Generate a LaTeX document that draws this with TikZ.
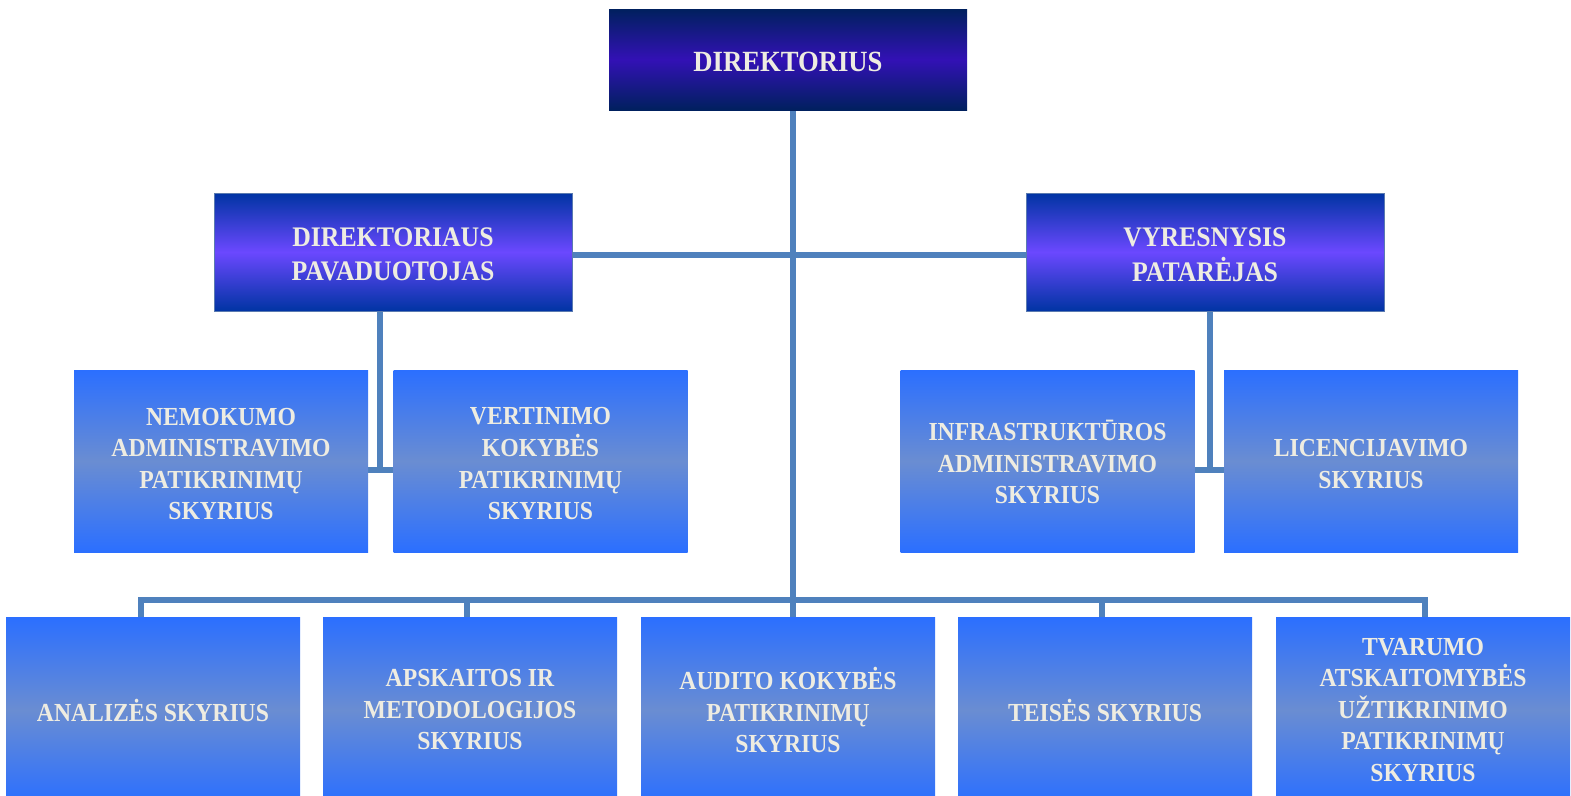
\documentclass[tikz,border=0pt]{standalone}
\usepackage{fontspec}
\setmainfont{Liberation Serif}[FakeStretch=0.91]
\usetikzlibrary{backgrounds}
\definecolor{txt}{HTML}{EEECE1}
\definecolor{conn}{HTML}{4F81BD}
\definecolor{dirA}{HTML}{00205E}
\definecolor{dirB}{HTML}{3311B5}
\definecolor{depA}{HTML}{0034A3}
\definecolor{depB}{HTML}{6B48FF}
\definecolor{depD}{HTML}{5A7AB0}
\definecolor{unA}{HTML}{2B6FFF}
\definecolor{unB}{HTML}{6A8DD2}
\newcommand{\tlines}[2][-5pt]{\raisebox{#1}[\height][\depth]{\begin{tabular}{@{}c@{}}#2\end{tabular}}}
\begin{document}
\begin{tikzpicture}[x=1pt,y=-1pt,
  box/.style={rectangle, inner sep=0pt, align=center, text=txt,
    font=\bfseries\fontsize{26}{31.5}\selectfont},
  dirbox/.style={box, minimum width=358pt, minimum height=101pt,
    top color=dirA, bottom color=dirA, middle color=dirB,
    font=\bfseries\fontsize{29.3}{34}\selectfont},
  depbox/.style={box, minimum width=358pt, minimum height=118pt,
    top color=depA, bottom color=depA, middle color=depB,
    draw=depD, line width=1pt,
    font=\bfseries\fontsize{28.3}{34}\selectfont},
  unitbox/.style={box, minimum width=294pt, minimum height=182pt,
    top color=unA, bottom color=unA, middle color=unB},
  lowbox/.style={unitbox, minimum height=186pt},
  link/.style={draw=conn, line width=5.5pt, line join=miter}
]
\useasboundingbox (0,0) rectangle (1571,795);
\clip (0,0) rectangle (1571,795);

\node[dirbox] (dir) at (788,59.5) {\tlines{DIREKTORIUS}};
\node[depbox] (dep) at (393,252) {\tlines{DIREKTORIAUS\\PAVADUOTOJAS}};
\node[depbox] (adv) at (1205,252) {\tlines{VYRESNYSIS\\PATARĖJAS}};

\node[unitbox] (nem) at (221,461) {\tlines{NEMOKUMO\\ADMINISTRAVIMO\\PATIKRINIMŲ\\SKYRIUS}};
\node[unitbox] (ver) at (540.5,461) {\tlines{VERTINIMO\\KOKYBĖS\\PATIKRINIMŲ\\SKYRIUS}};
\node[unitbox] (inf) at (1047.5,461) {\tlines{INFRASTRUKTŪROS\\ADMINISTRAVIMO\\SKYRIUS}};
\node[unitbox] (lic) at (1371,461) {\tlines{LICENCIJAVIMO\\SKYRIUS}};

\node[lowbox] (ana) at (153,710) {ANALIZĖS SKYRIUS};
\node[lowbox] (aps) at (470,710) {APSKAITOS IR\\METODOLOGIJOS\\SKYRIUS};
\node[lowbox] (aud) at (788,710) {AUDITO KOKYBĖS\\PATIKRINIMŲ\\SKYRIUS};
\node[lowbox] (tei) at (1105,710) {TEISĖS SKYRIUS};
\node[lowbox] (tva) at (1423,710) {TVARUMO\\ATSKAITOMYBĖS\\UŽTIKRINIMO\\PATIKRINIMŲ\\SKYRIUS};

\coordinate (tr) at (793,600);
\coordinate (hl) at (793,255);
\coordinate (dj) at (380,470);
\coordinate (aj) at (1210,470);
\coordinate (bl) at (141,600);
\coordinate (b2) at (467,600);
\coordinate (b4) at (1102,600);
\coordinate (br) at (1425,600);

\begin{scope}[on background layer]
\draw[link] (dir.south -| tr) -- (tr);
\draw[link] (dep.east |- hl) -- (adv.west |- hl);
\draw[link] (dep.south -| dj) -- (dj);
\draw[link] (nem.east |- dj) -- (ver.west |- dj);
\draw[link] (adv.south -| aj) -- (aj);
\draw[link] (inf.east |- aj) -- (lic.west |- aj);
\draw[link] (ana.north -| bl) -- (bl) -- (br) -- (tva.north -| br);
\draw[link] (b2) -- (aps.north -| b2);
\draw[link] (tr) -- (aud.north -| tr);
\draw[link] (b4) -- (tei.north -| b4);
\end{scope}
\end{tikzpicture}
\end{document}
